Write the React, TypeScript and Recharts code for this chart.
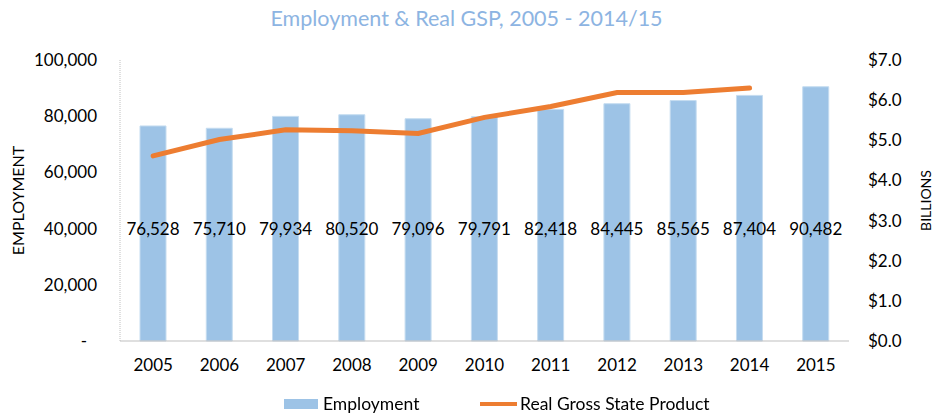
import React from 'react';
import {
    ComposedChart,
    Bar,
    Line,
    XAxis,
    YAxis,
    LabelList,
} from 'recharts';

const YEARS = ['2005', '2006', '2007', '2008', '2009', '2010', '2011', '2012', '2013', '2014', '2015'];
const EMPLOYMENT = [76528, 75710, 79934, 80520, 79096, 79791, 82418, 84445, 85565, 87404, 90482];
const GSP = [4.61, 5.02, 5.26, 5.24, 5.17, 5.57, 5.84, 6.19, 6.19, 6.3, null];
const LEFT_TICKS = [0, 20000, 40000, 60000, 80000, 100000];
const RIGHT_TICKS = [0, 1, 2, 3, 4, 5, 6, 7];

const FONT = 'Lato, "Open Sans", sans-serif';
const BAR_COLOR = '#9dc3e6';
const LINE_COLOR = '#ed7d31';

const data = YEARS.map((year, i) => ({
    year,
    employment: EMPLOYMENT[i],
    gsp: GSP[i],
}));

function LeftTick(props: any) {
    const { x, y, payload } = props;
    const isZero = payload.value === 0;
    return (
        <text
            x={isZero ? x - 10 : x}
            y={y}
            dy="0.35em"
            textAnchor="end"
            fontSize={17}
            fontFamily={FONT}
            fill="#000"
        >
            {isZero ? '-' : payload.value.toLocaleString('en-US')}
        </text>
    );
}

function SideTitle(props: any) {
    const { viewBox, text, px, size } = props;
    const cy = viewBox.y + viewBox.height / 2;
    return (
        <text
            x={px}
            y={cy}
            transform={`rotate(-90, ${px}, ${cy})`}
            textAnchor="middle"
            dominantBaseline="central"
            fontSize={size}
            fontFamily={FONT}
            fill="#000"
        >
            {text}
        </text>
    );
}

function ValueLabel(props: any) {
    const { x, y, width, height, value } = props;
    // Excel puts these at one fixed height, near the 40,000 line
    const bottom = y + height;
    return (
        <text
            x={x + width / 2}
            y={bottom - 113}
            textAnchor="middle"
            dominantBaseline="central"
            fontSize={17}
            fontFamily={FONT}
            fill="#000"
        >
            {value.toLocaleString('en-US')}
        </text>
    );
}

function ChartLegend() {
    return (
        <div
            style={{
                position: 'absolute',
                top: 393,
                left: 284,
                display: 'flex',
                alignItems: 'center',
                fontFamily: FONT,
                fontSize: 17.5,
                color: '#000',
                whiteSpace: 'nowrap',
            }}
        >
            <span style={{ display: 'inline-block', width: 34, height: 10, background: BAR_COLOR, marginRight: 5 }} />
            <span style={{ display: 'inline-block', width: 157 }}>Employment</span>
            <span style={{ display: 'inline-block', width: 37, height: 4, background: LINE_COLOR, marginRight: 3 }} />
            <span>Real Gross State Product</span>
        </div>
    );
}

export default function App() {
    return (
        <div style={{ position: 'fixed', top: 0, left: 0, width: 933, height: 413, background: '#fff' }}>
            <div
                style={{
                    position: 'absolute',
                    top: 5,
                    left: 0,
                    width: 933,
                    textAlign: 'center',
                    fontFamily: FONT,
                    fontSize: 21.5,
                    color: '#8db4e2',
                }}
            >
                Employment &amp; Real GSP, 2005 - 2014/15
            </div>
            <ComposedChart
                width={933}
                height={413}
                data={data}
                margin={{ top: 60, right: 0, left: 20, bottom: 0 }}
                barCategoryGap={0}
            >
                <XAxis
                    dataKey="year"
                    axisLine={{ stroke: '#bfbfbf' }}
                    tickLine={false}
                    tickSize={0}
                    tickMargin={18}
                    height={72}
                    tick={{ fontSize: 17, fontFamily: FONT, fill: '#000' }}
                    interval={0}
                />
                <YAxis
                    yAxisId="left"
                    domain={[0, 100000]}
                    ticks={LEFT_TICKS}
                    width={100}
                    axisLine={{ stroke: '#bfbfbf', strokeDasharray: '1 1' }}
                    tickLine={false}
                    tickSize={0}
                    tickMargin={23}
                    tick={<LeftTick />}
                    label={<SideTitle text="EMPLOYMENT" px={17} size={16} />}
                />
                <YAxis
                    yAxisId="right"
                    orientation="right"
                    domain={[0, 7]}
                    ticks={RIGHT_TICKS}
                    width={84}
                    axisLine={false}
                    tickLine={false}
                    tickSize={0}
                    tickMargin={19}
                    tickFormatter={(v) => `$${Number(v).toFixed(1)}`}
                    tick={{ fontSize: 17, fontFamily: FONT, fill: '#000', textAnchor: 'start' }}
                    label={<SideTitle text="BILLIONS" px={925} size={14} />}
                />
                <Bar
                    yAxisId="left"
                    dataKey="employment"
                    name="Employment"
                    fill={BAR_COLOR}
                    stroke="#c5dcf0"
                    strokeWidth={1}
                    barSize={26}
                    isAnimationActive={false}
                >
                    <LabelList dataKey="employment" content={<ValueLabel />} />
                </Bar>
                <Line
                    yAxisId="right"
                    dataKey="gsp"
                    name="Real Gross State Product"
                    stroke={LINE_COLOR}
                    strokeWidth={5}
                    dot={false}
                    activeDot={false}
                    strokeLinecap="round"
                    isAnimationActive={false}
                />
            </ComposedChart>
            <ChartLegend />
        </div>
    );
}
